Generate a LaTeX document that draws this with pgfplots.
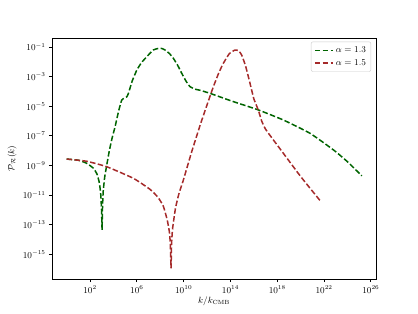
\documentclass[border=0pt]{standalone}
\usepackage{pgfplots}
\usepackage{pgfplotstable}
\pgfplotsset{compat=1.18}
\definecolor{mgreen}{RGB}{0,100,0}
\definecolor{mred}{RGB}{165,42,42}
% columns: log10(k/kCMB), log10(P_R)
\pgfplotstableread{
lk lp
0 -8.57
1 -8.65
1.7 -8.85
2.3 -9.2
2.6 -9.6
2.8 -10.2
2.92 -11.0
2.98 -12.0
3.03 -13.36
3.06 -12.0
3.12 -10.8
3.25 -9.8
3.4 -9.1
3.65 -8.0
3.9 -7.1
4.14 -6.38
4.45 -5.3
4.71 -4.58
4.95 -4.45
5.14 -4.36
5.28 -4.13
5.6 -3.3
6.0 -2.55
6.4 -2.05
6.85 -1.65
7.4 -1.2
7.84 -1.09
8.15 -1.1
8.41 -1.2
8.8 -1.45
9.12 -1.76
9.5 -2.25
9.84 -2.78
10.2 -3.3
10.55 -3.68
11.0 -3.85
11.4 -3.92
12.26 -4.13
14.25 -4.69
16.25 -5.21
18.52 -5.93
20.8 -6.83
22.8 -7.95
24.0 -8.75
25.22 -9.7
}\greentab
\pgfplotstableread{
lk lp
0 -8.57
1.71 -8.72
3.43 -9.09
5.7 -9.87
7.13 -10.62
7.8 -11.15
8.26 -11.75
8.6 -12.7
8.78 -13.5
8.86 -14.3
8.92 -15.95
8.97 -14.3
9.05 -13.3
9.3 -11.9
9.6 -10.9
9.97 -10.0
10.69 -8.07
11.4 -6.3
12.0 -4.9
12.54 -3.68
13.0 -2.75
13.39 -2.1
13.9 -1.45
14.39 -1.2
14.7 -1.25
14.96 -1.54
15.3 -2.3
15.67 -3.45
16.0 -4.5
16.38 -5.26
16.67 -6.0
17.0 -6.55
17.67 -7.28
18.52 -8.18
20.0 -9.75
21.66 -11.38
}\redtab
\begin{document}
\fontsize{9}{11}\selectfont
\begin{tikzpicture}
\useasboundingbox (-52bp,-35bp) rectangle (366bp,279bp);
\begin{axis}[
  at={(0,0)}, anchor=south west,
  scale only axis, width=324bp, height=241bp,
  xmode=log, ymode=log,
  xmin=5.6e-2, xmax=2.75e26,
  ymin=2.1e-17, ymax=0.41,
  xtick={1e2,1e6,1e10,1e14,1e18,1e22,1e26},
  ytick={1e-15,1e-13,1e-11,1e-9,1e-7,1e-5,1e-3,1e-1},
  minor xtick={}, minor ytick={},
  tick align=outside, tick pos=lower,
  major tick length=3.2bp,
  tick style={line width=0.75bp, black},
  axis line style={line width=0.75bp},
  ticklabel style={font=\fontsize{9}{11}\selectfont},
  xlabel={$k/k_{\rm CMB}$},
  ylabel={$\mathcal{P}_\mathcal{R}(k)$},
  label style={font=\fontsize{9}{11}\selectfont},
  xlabel style={yshift=2bp},
  ylabel style={yshift=0bp},
  legend cell align=left,
  legend style={font=\fontsize{9}{11}\selectfont, draw=black!20, rounded corners=2bp, inner xsep=3bp, inner ysep=3bp, at={(0.985,0.985)}, anchor=north east, row sep=1.5bp},
  legend image code/.code={\draw[#1] (0cm,0cm) -- (0.65cm,0cm);},
]
\addplot[mgreen, line width=1.5bp, dash pattern=on 5.5bp off 2.4bp, smooth, tension=0.3]
  table[x expr={10^(\thisrow{lk})}, y expr={10^(\thisrow{lp})}] {\greentab};
\addlegendentry{$\alpha=1.3$}
\addplot[mred, line width=1.5bp, dash pattern=on 5.5bp off 2.4bp, smooth, tension=0.3]
  table[x expr={10^(\thisrow{lk})}, y expr={10^(\thisrow{lp})}] {\redtab};
\addlegendentry{$\alpha=1.5$}
\end{axis}
\end{tikzpicture}
\end{document}
